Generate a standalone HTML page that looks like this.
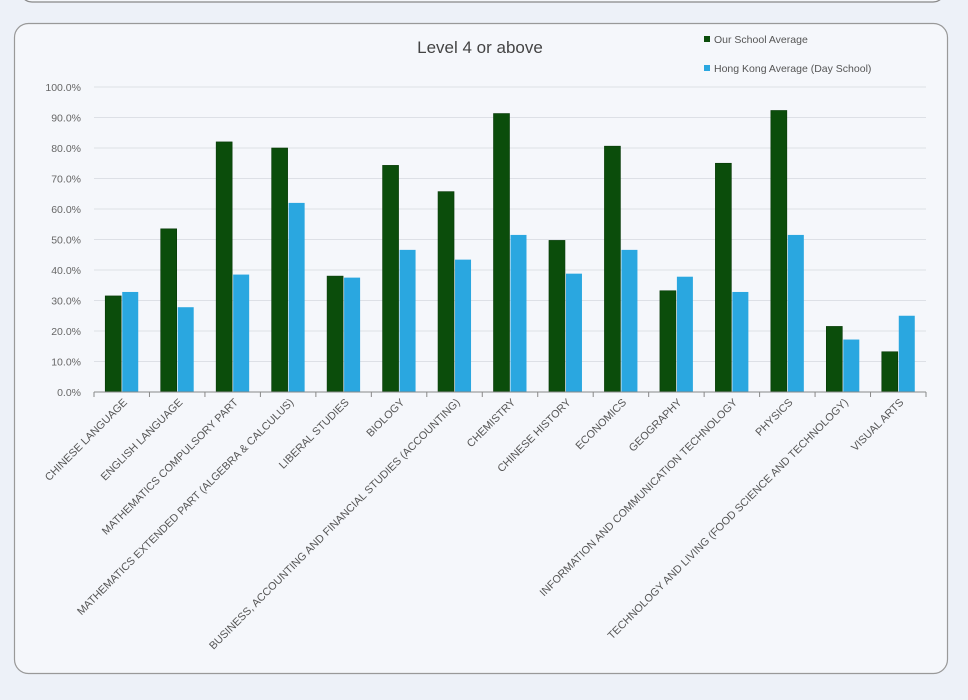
<!DOCTYPE html><html><head><style>body{margin:0;background:#edf1f8;width:968px;height:695px;overflow:hidden;font-family:"Liberation Sans",sans-serif}</style></head><body>
<svg width="968" height="695" xmlns="http://www.w3.org/2000/svg" font-family="Liberation Sans, sans-serif">
<rect x="20" y="-30" width="925" height="32" rx="12" fill="#f5f7fb" stroke="#888" stroke-width="1.2"/>
<rect x="14.5" y="23.5" width="933" height="650" rx="14" fill="#f5f7fb" stroke="#999" stroke-width="1.2"/>
<text x="480" y="53" font-size="17" fill="#444" text-anchor="middle">Level 4 or above</text>
<rect x="704" y="36" width="6" height="6" fill="#0b4d0b"/><text x="714" y="43" font-size="10.5" fill="#555">Our School Average</text>
<rect x="704" y="65" width="6" height="6" fill="#2aa7e0"/><text x="714" y="72" font-size="10.5" fill="#555">Hong Kong Average (Day School)</text>
<g id="g"></g>
</svg>
<script>
var g=document.getElementById('g'),s='';
var G=[31.5,53.5,82,80,38,74.3,65.7,91.3,49.7,80.6,33.2,75,92.3,21.5,13.2];
var B=[32.8,27.8,38.5,62,37.5,46.6,43.4,51.5,38.8,46.6,37.8,32.8,51.5,17.2,25];
var L=["CHINESE LANGUAGE","ENGLISH LANGUAGE","MATHEMATICS COMPULSORY PART","MATHEMATICS EXTENDED PART (ALGEBRA & CALCULUS)","LIBERAL STUDIES","BIOLOGY","BUSINESS, ACCOUNTING AND FINANCIAL STUDIES (ACCOUNTING)","CHEMISTRY","CHINESE HISTORY","ECONOMICS","GEOGRAPHY","INFORMATION AND COMMUNICATION TECHNOLOGY","PHYSICS","TECHNOLOGY AND LIVING (FOOD SCIENCE AND TECHNOLOGY)","VISUAL ARTS"];
var x0=94,x1=926,y0=392,k=3.05,w=(x1-x0)/15;
for(var i=0;i<=10;i++){var y=y0-i*10*k;
 if(i>0)s+='<line x1="'+x0+'" x2="'+x1+'" y1="'+y+'" y2="'+y+'" stroke="#dde0e6"/>';
 s+='<text x="81" y="'+(y+4)+'" font-size="10.5" fill="#666" text-anchor="end">'+(i*10)+'.0%</text>';}
for(var j=0;j<15;j++){var c=x0+w*(j+0.5);
 s+='<rect x="'+(c-16.5)+'" y="'+(y0-G[j]*k)+'" width="16" height="'+(G[j]*k)+'" fill="#0b4d0b" stroke="#063806" stroke-width="0.6"/>';
 s+='<rect x="'+(c+0.5)+'" y="'+(y0-B[j]*k)+'" width="16" height="'+(B[j]*k)+'" fill="#2aa7e0"/>';
 s+='<text transform="translate('+(c+6)+',403) rotate(-45)" font-size="10.8" fill="#555" text-anchor="end">'+L[j].replace('&','&amp;')+'</text>';}
s+='<line x1="'+x0+'" x2="'+x1+'" y1="'+y0+'" y2="'+y0+'" stroke="#888"/>';
for(var j=0;j<=15;j++){var t=x0+w*j;s+='<line x1="'+t+'" x2="'+t+'" y1="'+y0+'" y2="'+(y0+5)+'" stroke="#888"/>';}
g.innerHTML=s;
</script>
</body></html>
